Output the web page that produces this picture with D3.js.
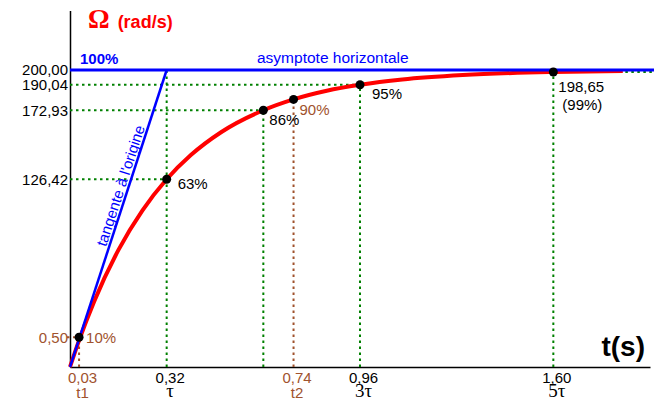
<!DOCTYPE html>
<html>
<head>
<meta charset="utf-8">
<script src="https://cdn.jsdelivr.net/npm/d3@7"></script>
<style>
  body { margin: 0; background: #fff; }
</style>
</head>
<body>
<div id="chart-area"></div>
<script>
// curve samples (t in s, omega in rad/s)
const tData = [0, 0.03, 0.08, 0.16, 0.24, 0.32, 0.40, 0.50, 0.64, 0.74, 0.85, 0.96, 1.10, 1.30, 1.60, 1.83]
const omegaData = [0, 17.9, 44.2, 78.7, 105.5, 126.4, 142.7, 158.1, 172.9, 180.2, 186.0, 190.0, 193.6, 196.6, 198.65, 199.3]

// marked points
const keyT = [0.03, 0.32, 0.64, 0.74, 0.96, 1.60]
const keyOmega = [20, 126.42, 172.93, 180.2, 190.04, 198.65]
const keyLabels = ['10%', '63%', '86%', '90%', '95%', '198,65']

// tangent at origin and asymptote
const tangentT = [0, 0.32]
const tangentOmega = [0, 200]
const asymptote = 200

// ticks
const xTickValues = [0.03, 0.32, 0.74, 0.96, 1.60]
const xTickLabels = ['0,03', '0,32', '0,74', '0,96', '1,60']
const xTickSubs = ['t1', 'τ', 't2', '3τ', '5τ']
const yTickValues = [20, 126.42, 172.93, 190.04, 200]
const yTickLabels = ['0,50', '126,42', '172,93', '190,04', '200,00']

const brown = '#a0522d'
const green = '#008000'
const blue = '#0000ff'
const sans = '"Liberation Sans", Arial, sans-serif'
const serif = '"Liberation Serif", "Times New Roman", serif'

const width = 654
const height = 400

const svg = d3.select('#chart-area').append('svg')
    .attr('width', width)
    .attr('height', height)
    .attr('font-family', sans)

const xScale = d3.scaleLinear().domain([0, 1.92]).range([70, 650])
const yScale = d3.scaleLinear().domain([0, 240]).range([367, 10.6])

// axes
const xAxisGroup = svg.append('g')
    .attr('transform', `translate(0, ${yScale(0)})`)
    .call(d3.axisBottom(xScale).tickValues(xTickValues).tickSize(0).tickSizeOuter(0)
        .tickFormat((d, i) => xTickLabels[i]))
xAxisGroup.attr('font-family', sans)
xAxisGroup.select('.domain').attr('stroke', '#000').attr('stroke-width', 1.5)
xAxisGroup.selectAll('.tick text')
    .attr('font-size', '15px')
    .attr('y', 0).attr('dy', 16).attr('dx', 3)
    .attr('fill', (d, i) => (i === 0 || i === 2) ? brown : '#000')
xAxisGroup.selectAll('.tick').append('text')
    .attr('x', 3)
    .attr('y', (d, i) => xTickSubs[i].includes('τ') ? 30 : 31)
    .attr('text-anchor', 'middle')
    .attr('font-size', (d, i) => xTickSubs[i].includes('τ') ? '19px' : '15px')
    .attr('font-family', (d, i) => xTickSubs[i].includes('τ') ? serif : sans)
    .attr('fill', (d, i) => (i === 0 || i === 2) ? brown : '#000')
    .text((d, i) => xTickSubs[i])

const yAxisGroup = svg.append('g')
    .attr('transform', `translate(${xScale(0)}, 0)`)
    .call(d3.axisLeft(yScale).tickValues(yTickValues).tickSize(0).tickSizeOuter(0)
        .tickFormat((d, i) => yTickLabels[i]))
yAxisGroup.attr('font-family', sans)
yAxisGroup.select('.domain').attr('stroke', '#000').attr('stroke-width', 1.5)
yAxisGroup.selectAll('.tick text')
    .attr('font-size', '15px')
    .attr('x', -2)
    .attr('fill', (d, i) => i === 0 ? brown : '#000')

// guide lines
const guides = svg.append('g').attr('fill', 'none').attr('stroke-width', 2).attr('stroke-dasharray', '2.5,3.5')
const line = (x1, y1, x2, y2, color) => guides.append('line')
    .attr('x1', x1).attr('y1', y1).attr('x2', x2).attr('y2', y2).attr('stroke', color)

keyT.forEach((t, i) => {
    const color = (i === 0 || i === 3) ? brown : green
    const top = i === 1 ? yScale(asymptote) : yScale(keyOmega[i])
    line(xScale(t), yScale(0), xScale(t), top, color)
})
line(xScale(0) - 3, yScale(keyOmega[0]), xScale(keyT[0]), yScale(keyOmega[0]), brown)
line(xScale(0), yScale(keyOmega[1]), xScale(keyT[1]), yScale(keyOmega[1]), green)
line(xScale(0), yScale(keyOmega[2]), xScale(keyT[2]), yScale(keyOmega[2]), green)
line(xScale(0), yScale(keyOmega[4]), xScale(keyT[4]), yScale(keyOmega[4]), green)

// response curve
const curveLine = d3.line()
    .x(d => xScale(d[0]))
    .y(d => yScale(d[1]))
    .curve(d3.curveMonotoneX)
svg.append('path')
    .datum(tData.map((t, i) => [t, omegaData[i]]))
    .attr('d', curveLine)
    .attr('fill', 'none')
    .attr('stroke', '#ff0000')
    .attr('stroke-width', 4)

// asymptote and tangent
svg.append('line')
    .attr('x1', xScale(0)).attr('x2', width)
    .attr('y1', yScale(asymptote)).attr('y2', yScale(asymptote))
    .attr('stroke', blue).attr('stroke-width', 3)
svg.append('line')
    .attr('x1', xScale(tangentT[0])).attr('y1', yScale(tangentOmega[0]))
    .attr('x2', xScale(tangentT[1])).attr('y2', yScale(tangentOmega[1]))
    .attr('stroke', blue).attr('stroke-width', 2.5)

line(xScale(keyT[5]), yScale(keyOmega[5]), width, yScale(keyOmega[5]), green)

// tangent label
const dx = xScale(tangentT[1]) - xScale(tangentT[0])
const dy = yScale(tangentOmega[1]) - yScale(tangentOmega[0])
const angle = Math.atan2(dy, dx) * 180 / Math.PI
const along = 121
const px = xScale(tangentT[1] * along / tangentOmega[1]) - 3
const py = yScale(along)
svg.append('text')
    .attr('transform', `translate(${px}, ${py}) rotate(${angle})`)
    .attr('text-anchor', 'middle')
    .attr('font-size', '15px')
    .attr('fill', blue)
    .text("tangente à l'origine")

// points
const points = keyT.map((t, i) => ({ t, v: keyOmega[i], label: keyLabels[i], i }))
svg.selectAll('circle')
    .data(points)
    .enter()
    .append('circle')
    .attr('cx', d => xScale(d.t))
    .attr('cy', d => yScale(d.v))
    .attr('r', 4.5)
    .attr('fill', '#000')

const labelOffsets = [[7, 6], [11, 10], [6, 15], [6, 16], [12, 14], [5, 20]]
svg.selectAll('.pt-label')
    .data(points)
    .enter()
    .append('text')
    .attr('class', 'pt-label')
    .attr('x', d => xScale(d.t) + labelOffsets[d.i][0])
    .attr('y', d => yScale(d.v) + labelOffsets[d.i][1])
    .attr('font-size', '15px')
    .attr('fill', d => (d.i === 0 || d.i === 3) ? brown : '#000')
    .text(d => d.label)
svg.append('text')
    .attr('x', xScale(keyT[5]) + 9)
    .attr('y', yScale(keyOmega[5]) + 38)
    .attr('font-size', '15px')
    .text('(99%)')

// labels
svg.append('text')
    .attr('x', 80).attr('y', 64)
    .attr('font-size', '15px').attr('font-weight', 'bold')
    .attr('fill', blue)
    .text('100%')
svg.append('text')
    .attr('x', 257).attr('y', 63)
    .attr('font-size', '15.5px')
    .attr('fill', blue)
    .text('asymptote horizontale')

const title = svg.append('text')
    .attr('x', 88).attr('y', 28)
    .attr('fill', '#ff0000')
    .attr('font-weight', 'bold')
title.append('tspan')
    .attr('font-family', serif)
    .attr('font-size', '27px')
    .text('Ω')
title.append('tspan')
    .attr('dx', 8)
    .attr('font-size', '18px')
    .text('(rad/s)')

svg.append('text')
    .attr('x', 645).attr('y', 356)
    .attr('text-anchor', 'end')
    .attr('font-size', '28px').attr('font-weight', 'bold')
    .text('t(s)')
</script>
</body>
</html>
